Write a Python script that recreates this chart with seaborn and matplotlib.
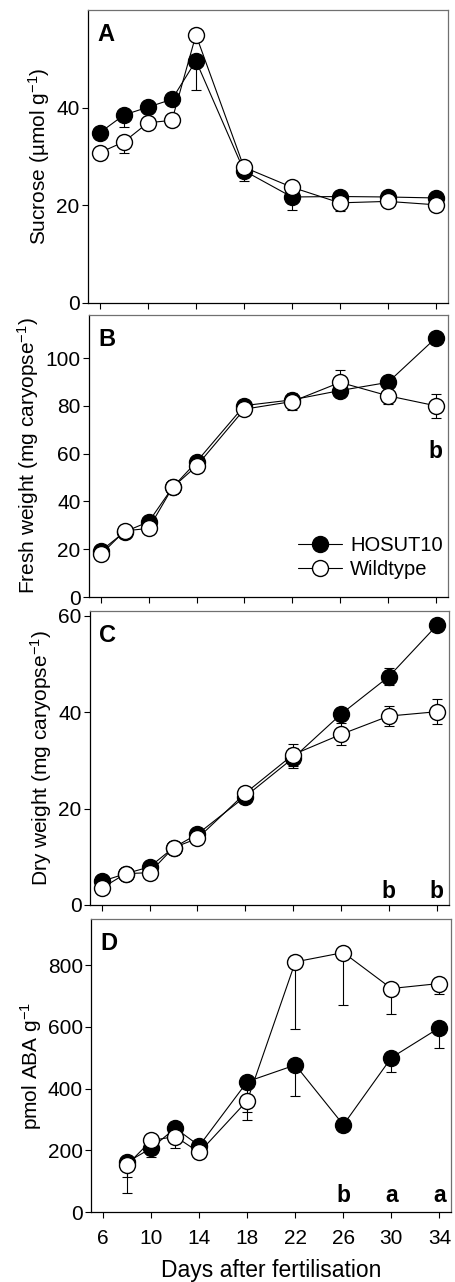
import numpy as np
import matplotlib
matplotlib.use('Agg')
import matplotlib.pyplot as plt
import seaborn as sns

sns.set_theme(style='ticks')
plt.rcParams['font.family'] = ['Liberation Sans', 'DejaVu Sans']
plt.rcParams['mathtext.fontset'] = 'custom'
plt.rcParams['mathtext.rm'] = 'Liberation Sans'
plt.rcParams['mathtext.default'] = 'regular'
plt.rcParams['text.color'] = 'black'
plt.rcParams['axes.labelcolor'] = 'black'
plt.rcParams['xtick.color'] = 'black'
plt.rcParams['ytick.color'] = 'black'

# days after fertilisation
days = [6, 8, 10, 12, 14, 18, 22, 26, 30, 34]
days_aba = [8, 10, 12, 14, 18, 22, 26, 30, 34]

# A - sucrose
suc_hosut = [34.9, 38.5, 40.1, 41.7, 49.6, 27.1, 21.7, 21.8, 21.7, 21.5]
suc_hosut_err = [0.8, 2.4, 0.8, 1.0, 6.0, 2.2, 2.6, 0.6, 0.5, 0.6]
suc_wt = [30.8, 33.0, 36.9, 37.4, 54.9, 27.8, 23.7, 20.5, 20.8, 20.1]
suc_wt_err = [0.8, 2.2, 0.8, 0.8, 1.0, 0.6, 0.8, 1.7, 0.5, 0.5]

# B - fresh weight
fw_hosut = [19.3, 27.3, 31.5, 45.9, 56.6, 80.1, 82.5, 86.4, 89.8, 108.4]
fw_hosut_err = [1.0, 1.0, 1.2, 1.0, 1.2, 1.2, 2.0, 1.5, 1.5, 2.0]
fw_wt = [17.8, 27.7, 28.7, 45.9, 54.8, 78.6, 81.8, 89.8, 84.2, 80.0]
fw_wt_err = [1.0, 1.0, 1.0, 1.0, 1.2, 1.2, 3.5, 5.0, 3.5, 5.0]

# C - dry weight
dw_hosut = [4.9, 6.5, 7.9, 11.9, 14.7, 22.5, 30.5, 39.6, 47.4, 58.0]
dw_hosut_err = [0.4, 0.4, 0.5, 0.5, 0.6, 0.6, 2.1, 1.0, 1.75, 1.0]
dw_wt = [3.5, 6.5, 6.7, 11.9, 13.8, 23.2, 31.2, 35.4, 39.2, 40.1]
dw_wt_err = [0.4, 0.4, 0.5, 0.5, 0.6, 0.6, 2.3, 2.3, 2.0, 2.6]

# D - ABA (only lower error bars shown)
aba_hosut = [161.7, 207.0, 271.7, 214.6, 422.6, 476.5, 282.5, 500.3, 597.3]
aba_hosut_err = [48, 29, 10, 10, 100, 102, 10, 47, 67]
aba_wt = [153.0, 231.8, 244.7, 193.0, 361.2, 810.8, 841.0, 724.5, 740.7]
aba_wt_err = [92, 10, 38, 10, 62, 218, 170, 84, 35]

panel_letters = ['A', 'B', 'C', 'D']
ylabels = ['Sucrose (µmol g$^{-1}$)', 'Fresh weight (mg caryopse$^{-1}$)',
           'Dry weight (mg caryopse$^{-1}$)', 'pmol ABA g$^{-1}$']
ylims = [(0, 60), (0, 118), (0, 61), (0, 950)]
yticks = [[0, 20, 40], [0, 20, 40, 60, 80, 100], [0, 20, 40, 60], [0, 200, 400, 600, 800]]

# significance letters: (panel, day, baseline y, text)
sig_letters = [(1, 34, 58, 'b'), (2, 30, 1.4, 'b'), (2, 34, 1.4, 'b'),
               (3, 26, 33, 'b'), (3, 30, 33, 'a'), (3, 34, 33, 'a')]

panels = [
    (days, suc_hosut, suc_hosut_err, suc_wt, suc_wt_err, False),
    (days, fw_hosut, fw_hosut_err, fw_wt, fw_wt_err, True),
    (days, dw_hosut, dw_hosut_err, dw_wt, dw_wt_err, True),
    (days_aba, aba_hosut, aba_hosut_err, aba_wt, aba_wt_err, False),
]

# axes boxes (left, bottom, width, height) in figure fraction
boxes = [(0.193, 0.7637, 0.789, 0.2285),
         (0.195, 0.5343, 0.787, 0.2200),
         (0.197, 0.2941, 0.787, 0.2293),
         (0.200, 0.0546, 0.790, 0.2286)]

fig = plt.figure(figsize=(4.56, 12.82), dpi=100)

for i, (x, h, he, w, we, sym) in enumerate(panels):
    ax = fig.add_axes(boxes[i])
    x = np.array(x)
    he = np.array(he)
    we = np.array(we)
    if sym:
        herr, werr = he, we
    else:
        herr = [he, np.zeros_like(he)]
        werr = [we, np.zeros_like(we)]

    ax.errorbar(x, h, yerr=herr, fmt='none', ecolor='black', elinewidth=0.8,
                capsize=3.5, capthick=0.8, zorder=2)
    sns.lineplot(x=x, y=h, ax=ax, color='black', lw=0.8, marker='o', markersize=11.5,
                 markerfacecolor='black', markeredgecolor='black', markeredgewidth=1,
                 label='HOSUT10', zorder=3)
    ax.errorbar(x, w, yerr=werr, fmt='none', ecolor='black', elinewidth=0.8,
                capsize=3.5, capthick=0.8, zorder=4)
    sns.lineplot(x=x, y=w, ax=ax, color='black', lw=0.8, marker='o', markersize=11.5,
                 markerfacecolor='white', markeredgecolor='black', markeredgewidth=1,
                 label='Wildtype', zorder=5)

    ax.set_xlim(5, 35)
    ax.set_xticks([6, 10, 14, 18, 22, 26, 30, 34])
    ax.set_ylim(*ylims[i])
    ax.set_yticks(yticks[i])
    ax.tick_params(direction='out', length=4, width=0.8, labelsize=15, pad=2)
    ax.tick_params(axis='x', pad=8)
    if i < 3:
        ax.tick_params(axis='x', labelbottom=False)
    ax.set_ylabel(ylabels[i], fontsize=15, labelpad=3)
    ax.set_xlabel('')
    for s in ['left', 'bottom']:
        ax.spines[s].set_color('black')
        ax.spines[s].set_linewidth(0.9)
    for s in ['top', 'right']:
        ax.spines[s].set_color('#707070')
        ax.spines[s].set_linewidth(0.9)

    ax.text(0.025, 0.955, panel_letters[i], transform=ax.transAxes, fontsize=17,
            fontweight='bold', va='top', ha='left')

    for p, d, yy, t in sig_letters:
        if p == i:
            ax.text(d, yy, t, fontsize=16.5, fontweight='bold', ha='center', va='baseline')

    if i == 1:
        ax.legend(loc='lower right', bbox_to_anchor=(1.02, 0.02), frameon=False,
                  fontsize=14.5, handlelength=2.2, handletextpad=0.4, labelspacing=0.25,
                  borderaxespad=0.2)
    else:
        leg = ax.get_legend()
        if leg is not None:
            leg.remove()

    if i == 3:
        ax.set_xlabel('Days after fertilisation', fontsize=16.5, labelpad=8)

fig.savefig('out.png', dpi=100)
